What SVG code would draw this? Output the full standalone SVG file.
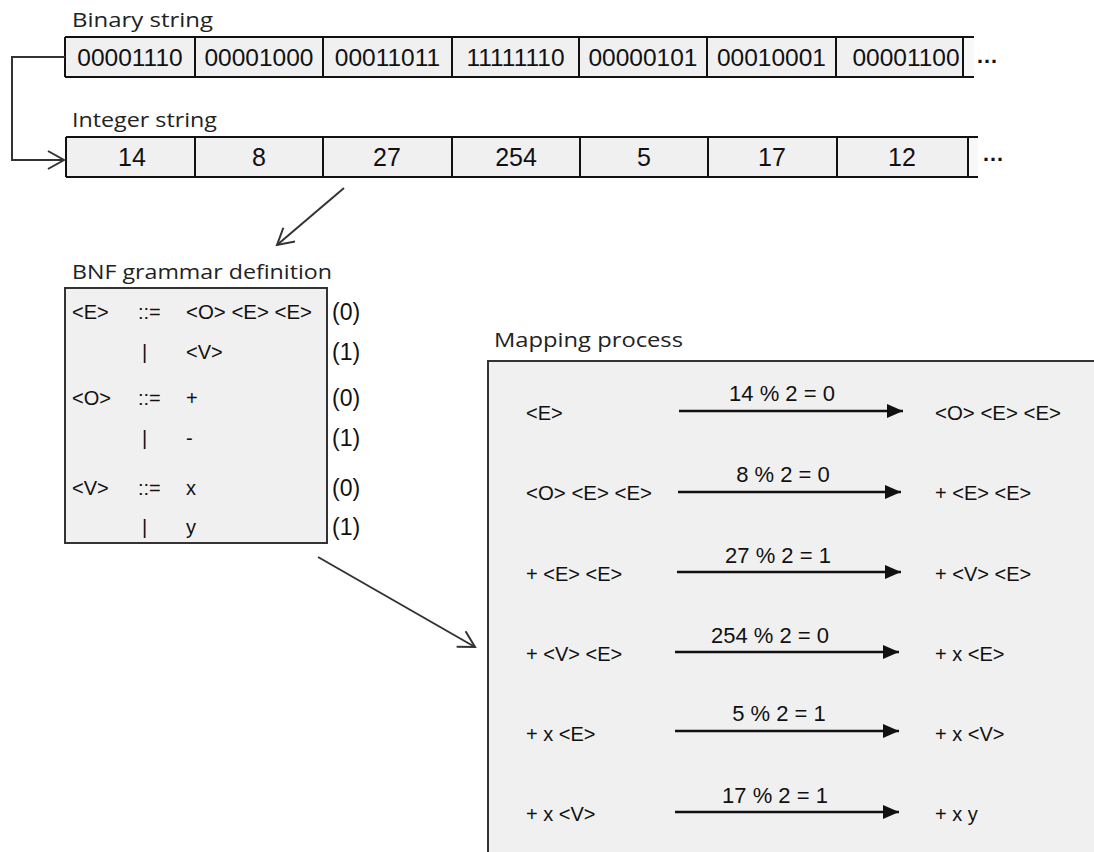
<svg xmlns="http://www.w3.org/2000/svg" width="1094" height="852" viewBox="0 0 1094 852">
<style>
.head{font-family:"Open Sans","Liberation Sans",sans-serif;font-size:20px;fill:#222}
.cell{fill:#f0f0f0;stroke:none}
.grid{stroke:#111;stroke-width:2;fill:none}
.bin{font-family:"Liberation Sans",Arial,sans-serif;font-size:24.5px;fill:#111;text-anchor:middle}
.int{font-family:"Liberation Sans",Arial,sans-serif;font-size:25px;fill:#111;text-anchor:middle}
.dots{font-family:"Liberation Sans",Arial,sans-serif;font-size:22px;font-weight:bold;fill:#111}
.ex{font-family:"Liberation Sans",Arial,sans-serif;font-size:20px;fill:#111}
.num{font-family:"Liberation Sans",Arial,sans-serif;font-size:23px;fill:#111}
.lbl{font-family:"Liberation Sans",Arial,sans-serif;font-size:22px;fill:#111;text-anchor:middle}
.box{fill:#f0f0f0;stroke:#333;stroke-width:2}
.open{fill:none;stroke:#333;stroke-width:2}
.solid{stroke:#111;stroke-width:2.5;fill:none}
</style>
<defs>
<marker id="openHead" viewBox="0 0 20 20" refX="18" refY="10" markerWidth="20" markerHeight="20" markerUnits="userSpaceOnUse" orient="auto">
<path d="M2,1 L18,10 L2,19" fill="none" stroke="#333" stroke-width="2"/>
</marker>
<marker id="solidHead" viewBox="0 0 16 14" refX="16" refY="7" markerWidth="16" markerHeight="14" markerUnits="userSpaceOnUse" orient="auto">
<path d="M0,0 L16,7 L0,14 z" fill="#111"/>
</marker>
<clipPath id="lastBin"><rect x="836" y="37" width="126" height="40"/></clipPath>
</defs>

<g id="binary-string">
<text class="head" x="72" y="27" textLength="141" lengthAdjust="spacingAndGlyphs">Binary string</text>
<rect class="cell" x="65" y="37" width="898" height="40"/>
<rect x="963" y="37" width="11" height="40" fill="#f8f8f8"/>
<path class="grid" d="M65,37 H974 M65,77 H974 M65,37 V77 M195,37 V77 M323,37 V77 M452,37 V77 M579,37 V77 M707,37 V77 M836,37 V77 M963,37 V77"/>
<text class="bin" x="130" y="66">00001110</text>
<text class="bin" x="259" y="66">00001000</text>
<text class="bin" x="387.5" y="66">00011011</text>
<text class="bin" x="515.5" y="66">11111110</text>
<text class="bin" x="643" y="66">00000101</text>
<text class="bin" x="771.5" y="66">00010001</text>
<text class="bin" x="906" y="66" clip-path="url(#lastBin)">00001100</text>
<text class="dots" x="976" y="63">…</text>
</g>

<g id="integer-string">
<text class="head" x="72" y="127" textLength="145" lengthAdjust="spacingAndGlyphs">Integer string</text>
<rect class="cell" x="66" y="137" width="902" height="40"/>
<rect x="968" y="137" width="10" height="40" fill="#f8f8f8"/>
<path class="grid" d="M66,137 H978 M66,177 H978 M66,137 V177 M195,137 V177 M323,137 V177 M452,137 V177 M580,137 V177 M708,137 V177 M837,137 V177 M968,137 V177"/>
<text class="int" x="132" y="166">14</text>
<text class="int" x="259" y="166">8</text>
<text class="int" x="387" y="166">27</text>
<text class="int" x="516" y="166">254</text>
<text class="int" x="644" y="166">5</text>
<text class="int" x="772" y="166">17</text>
<text class="int" x="902" y="166">12</text>
<text class="dots" x="982" y="161">…</text>
</g>

<g id="bnf-grammar">
<text class="head" x="72" y="279" textLength="260" lengthAdjust="spacingAndGlyphs">BNF grammar definition</text>
<rect class="box" x="65" y="288" width="262" height="255"/>
<text class="ex" x="72" y="319">&lt;E&gt;</text>
<text class="ex" x="138" y="319">::=</text>
<text class="ex" x="186" y="319" textLength="126" lengthAdjust="spacingAndGlyphs">&lt;O&gt; &lt;E&gt; &lt;E&gt;</text>
<text class="num" x="332" y="320">(0)</text>
<text class="ex" x="142" y="359">|</text>
<text class="ex" x="186" y="359">&lt;V&gt;</text>
<text class="num" x="332" y="360">(1)</text>
<text class="ex" x="72" y="405">&lt;O&gt;</text>
<text class="ex" x="138" y="405">::=</text>
<text class="ex" x="186" y="405">+</text>
<text class="num" x="332" y="406">(0)</text>
<text class="ex" x="142" y="445">|</text>
<text class="ex" x="186" y="445">-</text>
<text class="num" x="332" y="446">(1)</text>
<text class="ex" x="72" y="495">&lt;V&gt;</text>
<text class="ex" x="138" y="495">::=</text>
<text class="ex" x="186" y="495">x</text>
<text class="num" x="332" y="496">(0)</text>
<text class="ex" x="142" y="534">|</text>
<text class="ex" x="186" y="534">y</text>
<text class="num" x="332" y="535">(1)</text>
</g>

<g id="mapping-process">
<text class="head" x="494" y="347" textLength="189" lengthAdjust="spacingAndGlyphs">Mapping process</text>
<rect class="box" x="488" y="361" width="700" height="600"/>
<text class="ex" x="526" y="420">&lt;E&gt;</text>
<text class="lbl" x="782" y="401">14 % 2 = 0</text>
<text class="ex" x="935" y="420" textLength="126" lengthAdjust="spacingAndGlyphs">&lt;O&gt; &lt;E&gt; &lt;E&gt;</text>
<text class="ex" x="526" y="500" textLength="126" lengthAdjust="spacingAndGlyphs">&lt;O&gt; &lt;E&gt; &lt;E&gt;</text>
<text class="lbl" x="783" y="482">8 % 2 = 0</text>
<text class="ex" x="935" y="500">+ &lt;E&gt; &lt;E&gt;</text>
<text class="ex" x="526" y="581">+ &lt;E&gt; &lt;E&gt;</text>
<text class="lbl" x="778" y="563">27 % 2 = 1</text>
<text class="ex" x="935" y="581">+ &lt;V&gt; &lt;E&gt;</text>
<text class="ex" x="526" y="661">+ &lt;V&gt; &lt;E&gt;</text>
<text class="lbl" x="770" y="643">254 % 2 = 0</text>
<text class="ex" x="935" y="661">+ x &lt;E&gt;</text>
<text class="ex" x="526" y="741">+ x &lt;E&gt;</text>
<text class="lbl" x="779" y="721">5 % 2 = 1</text>
<text class="ex" x="935" y="741">+ x &lt;V&gt;</text>
<text class="ex" x="526" y="821">+ x &lt;V&gt;</text>
<text class="lbl" x="775" y="803">17 % 2 = 1</text>
<text class="ex" x="935" y="821">+ x y</text>
</g>

<g id="connectors">
<path class="open" d="M65,57 H12 V160 H64" marker-end="url(#openHead)"/>
<line class="open" x1="344" y1="188" x2="277" y2="245" marker-end="url(#openHead)"/>
<line class="open" x1="318" y1="557" x2="475" y2="647" marker-end="url(#openHead)"/>
<line class="solid" x1="679" y1="411" x2="903" y2="411" marker-end="url(#solidHead)"/>
<line class="solid" x1="678" y1="492" x2="901" y2="492" marker-end="url(#solidHead)"/>
<line class="solid" x1="677" y1="572" x2="901" y2="572" marker-end="url(#solidHead)"/>
<line class="solid" x1="675" y1="652" x2="899" y2="652" marker-end="url(#solidHead)"/>
<line class="solid" x1="675" y1="731" x2="899" y2="731" marker-end="url(#solidHead)"/>
<line class="solid" x1="675" y1="812" x2="899" y2="812" marker-end="url(#solidHead)"/>
</g>
</svg>
